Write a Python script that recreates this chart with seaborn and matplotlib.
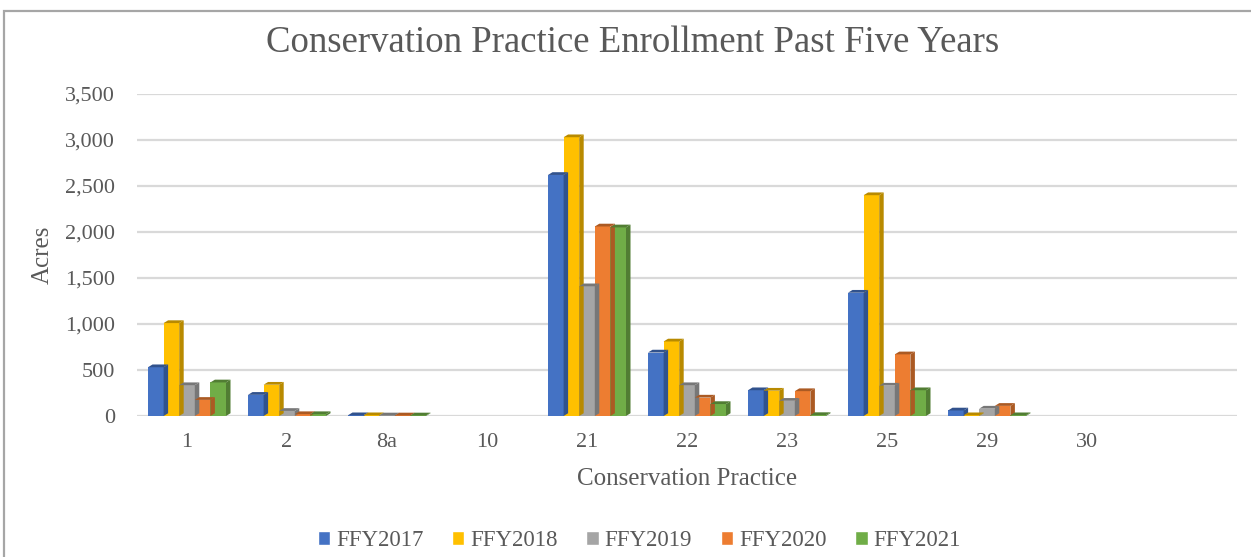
import pandas as pd
import matplotlib
matplotlib.use("Agg")
import matplotlib.pyplot as plt
import matplotlib.colors as mcolors
from matplotlib.patches import Polygon, Rectangle
import seaborn as sns

# practices and acres per federal fiscal year
practices = ["1", "2", "8a", "10", "21", "22", "23", "25", "29", "30"]
years = ["FFY2017", "FFY2018", "FFY2019", "FFY2020", "FFY2021"]
ffy2017 = [530, 230, 8, 0, 2620, 690, 280, 1340, 60, 0]
ffy2018 = [1010, 340, 8, 0, 3030, 810, 275, 2400, 8, 0]
ffy2019 = [335, 55, 6, 0, 1410, 335, 165, 330, 80, 0]
ffy2020 = [175, 20, 6, 0, 2060, 200, 270, 670, 110, 0]
ffy2021 = [365, 20, 6, 0, 2050, 130, 10, 280, 8, 0]
colors = ["#4472C4", "#FFC000", "#A5A5A5", "#ED7D31", "#70AD47"]

series = [ffy2017, ffy2018, ffy2019, ffy2020, ffy2021]
df = pd.DataFrame(
    [(p, y, v) for y, vals in zip(years, series) for p, v in zip(practices, vals)],
    columns=["practice", "year", "acres"],
)

sns.set_theme(style="white")
plt.rcParams["font.family"] = ["Liberation Serif", "DejaVu Serif"]
text_col = "#595959"

fig = plt.figure(figsize=(12.51, 5.57), dpi=100)
ax = fig.add_axes([137 / 1251, 141 / 557, 1100 / 1251, 322 / 557])

sns.barplot(data=df, x="practice", y="acres", hue="year", order=practices,
            hue_order=years, palette=colors, width=0.78, saturation=1,
            edgecolor="none", ax=ax, legend=False)

ax.set_xlim(-0.5, 10.5)
ax.set_ylim(0, 3500)
ax.set_yticks(range(0, 3501, 500))
ax.set_yticklabels([f"{v:,}" for v in range(0, 3501, 500)])
ax.yaxis.grid(True, color="#D9D9D9", lw=1.6)
ax.set_axisbelow(True)
for s in ax.spines.values():
    s.set_visible(False)
ax.tick_params(axis="both", length=0, labelsize=16, labelcolor=text_col)
ax.tick_params(axis="x", pad=12)
ax.tick_params(axis="y", pad=16)

# fake 3D side and top faces, derived from the drawn bars
dx, dy = 0.045, 30
for patch in list(ax.patches):
    x0, y0 = patch.get_x(), patch.get_y()
    w, h = patch.get_width(), patch.get_height()
    if w <= 0 or h <= 0:
        continue
    c = mcolors.to_rgb(patch.get_facecolor())
    dark = tuple(v * 0.72 for v in c)
    side = Polygon([(x0 + w, y0), (x0 + w + dx, y0 + dy), (x0 + w + dx, y0 + h + dy),
                    (x0 + w, y0 + h)], closed=True, facecolor=dark, edgecolor="none")
    top = Polygon([(x0, y0 + h), (x0 + w, y0 + h), (x0 + w + dx, y0 + h + dy),
                   (x0 + dx, y0 + h + dy)], closed=True, facecolor=dark, edgecolor="none")
    ax.add_patch(side)
    ax.add_patch(top)

ax.set_xlabel("Conservation Practice", fontsize=18, color=text_col, labelpad=12)
ax.set_ylabel("Acres", fontsize=18, color=text_col, labelpad=8)

fig.text(0.506, 1 - 43 / 557, "Conservation Practice Enrollment Past Five Years",
         ha="center", va="center", fontsize=26.5, color=text_col)

handles = [Rectangle((0, 0), 1, 1, facecolor=c) for c in colors]
fig.legend(handles, years, loc="center", bbox_to_anchor=(0.511, 1 - 541 / 557),
           ncol=5, frameon=False, fontsize=16.5, handlelength=0.55, handleheight=0.55,
           handletextpad=0.25, columnspacing=1.25, labelcolor=text_col)

# chart border (only top and left are inside the crop)
fig.patches.append(Rectangle((4 / 1251, -0.1), 1.2, 1.1 - 11 / 557,
                             transform=fig.transFigure, fill=False,
                             edgecolor="#A6A6A6", lw=1.6))

fig.savefig("out.png", dpi=100, facecolor="white")
